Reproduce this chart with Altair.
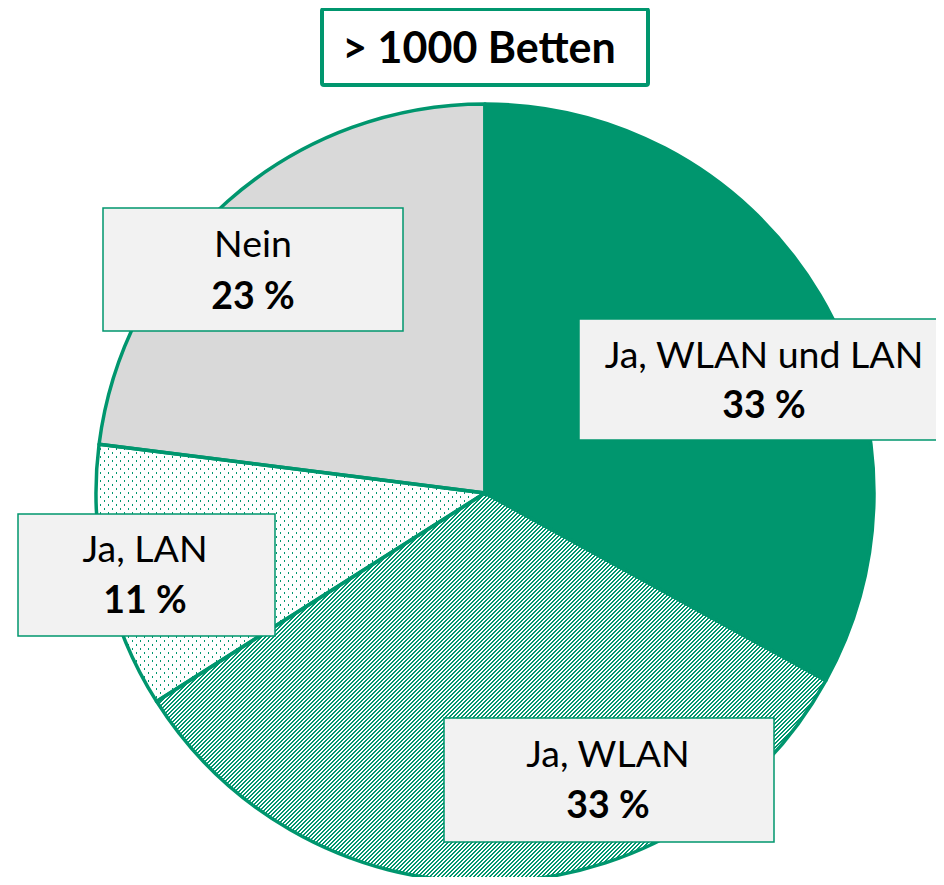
import math
import altair as alt
import pandas as pd

# ---------------- data ----------------
categories = ["Ja, WLAN und LAN", "Ja, WLAN", "Ja, LAN", "Nein"]
values = [33, 33, 11, 23]
title_text = ["> 1000 Betten"]

# ---------------- style / layout ----------------
GREEN = "#00966E"
GRAY = "#D9D9D9"
BOXFILL = "#F2F2F2"
FONT = "Lato"
W, H = 928, 869
CX, CY, R = 477, 485, 389
LABEL_SIZE = 37.5

# label boxes (x0, y0, x1, y1) and text anchor (x, baseline1, baseline2)
BOXES = [
    ((571, 311, 945, 432), (756, 360, 410)),
    ((436, 710, 766, 834), (600, 759, 810)),
    ((10, 506, 267, 628), (137, 554, 605)),
    ((95, 200, 395, 323), (245, 249, 301)),
]

df = pd.DataFrame({"category": categories, "value": values, "order": list(range(len(categories)))})
total = float(sum(values))


def slice_bbox(i):
    a0 = 2 * math.pi * sum(values[:i]) / total
    a1 = 2 * math.pi * sum(values[: i + 1]) / total
    angs = [a0, a1] + [k * math.pi / 2 for k in range(5) if a0 < k * math.pi / 2 < a1]
    xs = [CX] + [CX + R * math.sin(a) for a in angs]
    ys = [CY] + [CY - R * math.cos(a) for a in angs]
    return min(xs), min(ys), max(xs) - min(xs), max(ys) - min(ys)


def stripes(i, period, frac, on, off, direction):
    """Hatch pattern built from a hard-stop linear gradient (45 degree lines)."""
    _, _, w, h = slice_bbox(i)
    k = (w + h) / (w * w + h * h)
    dt = period / (w + h)
    stops = []
    t = 0.0
    while t < 1.0:
        a = round(t, 6)
        b = round(min(t + frac * dt, 1.0), 6)
        c = round(min(t + dt, 1.0), 6)
        stops += [
            {"offset": a, "color": on},
            {"offset": b, "color": on},
            {"offset": b, "color": off},
            {"offset": c, "color": off},
        ]
        t += dt
    if direction == "/":
        x1, y1, x2, y2 = 0, 0, k * w, k * h
    else:
        x1, y1, x2, y2 = 0, 1, k * w, 1 - k * h
    return {"gradient": "linear", "x1": x1, "y1": y1, "x2": x2, "y2": y2, "stops": stops}


base = (
    alt.Chart(df)
    .transform_window(cum="sum(value)", sort=[alt.SortField("order")], frame=[None, 0])
    .transform_calculate(start="datum.cum - datum.value", label="datum.value + ' %'")
)

theta_enc = dict(
    theta=alt.Theta("start:Q", stack=None, scale=alt.Scale(domain=[0, total], range=[0, 2 * math.pi])),
    theta2="cum:Q",
    x=alt.value(CX),
    y=alt.value(CY),
)


def arc_layer(i, **mark):
    return (
        base.transform_filter(alt.datum.category == categories[i])
        .mark_arc(outerRadius=R, innerRadius=0, **mark)
        .encode(**theta_enc)
    )


layers = [
    arc_layer(0, fill=GREEN),
    arc_layer(1, fill=stripes(1, 4, 0.38, GREEN, "#ffffff", "/")),
    arc_layer(2, fill=stripes(2, 8, 0.3, GREEN, "#ffffff", "/")),
    arc_layer(2, fill=stripes(2, 8, 0.3, "rgba(255,255,255,0)", "#ffffff", "\\")),
    arc_layer(3, fill=GRAY),
    base.mark_arc(outerRadius=R, innerRadius=0, fill="#ffffff", fillOpacity=0,
                  stroke=GREEN, strokeWidth=3.5, strokeJoin="round").encode(**theta_enc),
]

for i, ((bx0, by0, bx1, by1), (tx, b1, b2)) in enumerate(BOXES):
    sel = base.transform_filter(alt.datum.category == categories[i])
    layers.append(
        sel.mark_rect(fill=BOXFILL, stroke=GREEN, strokeWidth=1.5).encode(
            x=alt.value(bx0), x2=alt.value(bx1), y=alt.value(by0), y2=alt.value(by1)
        )
    )
    layers.append(
        sel.mark_text(font=FONT, fontSize=LABEL_SIZE, align="center", baseline="alphabetic", color="#000000")
        .encode(x=alt.value(tx), y=alt.value(b1), text="category:N")
    )
    layers.append(
        sel.mark_text(font=FONT, fontSize=LABEL_SIZE, fontWeight="bold", align="center",
                      baseline="alphabetic", color="#000000")
        .encode(x=alt.value(tx), y=alt.value(b2), text="label:N")
    )

tdf = pd.DataFrame({"t": title_text})
layers.append(
    alt.Chart(tdf).mark_rect(fill="#ffffff", stroke=GREEN, strokeWidth=4, cornerRadius=2).encode(
        x=alt.value(314), x2=alt.value(640), y=alt.value(1), y2=alt.value(77)
    )
)
layers.append(
    alt.Chart(tdf).mark_text(font=FONT, fontSize=43, fontWeight="bold", align="center",
                             baseline="alphabetic", color="#000000")
    .encode(x=alt.value(471), y=alt.value(55), text="t:N")
)

chart = (
    alt.layer(*layers)
    .properties(width=W, height=H, autosize=alt.AutoSizeParams(type="none"), padding=0, background="#ffffff")
    .configure_view(stroke=None)
)

chart.save("out.html", embed_options={"renderer": "svg", "actions": False})
